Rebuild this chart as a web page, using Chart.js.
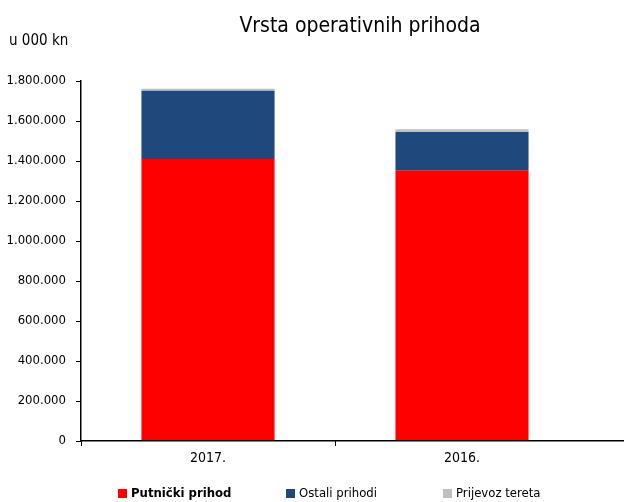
<!DOCTYPE html>
<html>
<head>
<meta charset="utf-8">
<script src="https://cdn.jsdelivr.net/npm/chart.js@4"></script>
<style>
  html, body { margin: 0; padding: 0; background: #fff; }
  #wrap { width: 624px; height: 502px; position: relative; }
</style>
</head>
<body>
<div id="wrap"><canvas id="revenueChart" width="624" height="502"></canvas></div>
<script>
const years = ['2017.', '2016.'];
const putnicki = [1410000, 1351000];
const ostali = [341000, 194000];
const teret = [10000, 14000];
const yTicks = [0, 200000, 400000, 600000, 800000, 1000000, 1200000, 1400000, 1600000, 1800000];

const FONT = '"DejaVu Sans Condensed", "Liberation Sans Narrow", "Liberation Sans", sans-serif';

function fmt(v) {
    return String(v).replace(/\B(?=(\d{3})+(?!\d))/g, '.');
}

// naslov, jedinica, legenda i vodoravna os crtaju se ručno
const extras = {
    id: 'extras',
    afterDraw(chart) {
        const c = chart.ctx;
        const a = chart.chartArea;
        c.save();
        const yLine = Math.round(a.bottom - 0.75) + 0.75;
        c.strokeStyle = '#000';
        c.lineWidth = 1.5;
        c.beginPath();
        c.moveTo(a.left - 1, yLine);
        c.lineTo(chart.width, yLine);
        c.stroke();

        c.fillStyle = '#000';
        c.textBaseline = 'middle';
        c.font = '21px ' + FONT;
        c.textAlign = 'center';
        c.fillText('Vrsta operativnih prihoda', 360, 27);
        c.font = '15px ' + FONT;
        c.textAlign = 'left';
        c.fillText('u 000 kn', 9, 41);

        const pos = [118, 286, 443];
        chart.data.datasets.forEach((ds, i) => {
            c.fillStyle = ds.backgroundColor;
            c.fillRect(pos[i], 489, 9, 9);
            c.fillStyle = '#000';
            c.font = (i === 0 ? 'bold ' : '') + '13px ' + FONT;
            c.fillText(ds.label, pos[i] + 13, 494);
        });
        c.restore();
    }
};

const ctx = document.getElementById('revenueChart').getContext('2d');
const revenueChart = new Chart(ctx, {
    type: 'bar',
    data: {
        labels: years,
        datasets: [
            { label: 'Putnički prihod', data: putnicki, backgroundColor: '#FF0000' },
            { label: 'Ostali prihodi', data: ostali, backgroundColor: '#1F497D' },
            { label: 'Prijevoz tereta', data: teret, backgroundColor: '#BFBFBF' }
        ]
    },
    options: {
        responsive: false,
        animation: false,
        layout: { padding: { top: 81, right: 35, left: 0, bottom: 0 } },
        datasets: {
            bar: { categoryPercentage: 1, barPercentage: 0.524 }
        },
        plugins: {
            legend: { display: false },
            title: { display: false },
            tooltip: { enabled: false }
        },
        scales: {
            x: {
                stacked: true,
                grid: {
                    offset: true,
                    drawOnChartArea: false,
                    tickLength: 5,
                    color: c => (c.type === 'tick' ? '#000' : 'rgba(0,0,0,0)')
                },
                border: { display: false },
                ticks: { color: '#000', font: { family: FONT, size: 14 }, padding: 4 },
                afterFit(axis) { axis.height = 61; }
            },
            y: {
                stacked: true,
                min: 0,
                max: 1800000,
                afterBuildTicks(axis) { axis.ticks = yTicks.map(v => ({ value: v })); },
                grid: { drawOnChartArea: false, tickLength: 5, color: '#000' },
                border: { color: '#000', width: 1.5 },
                ticks: {
                    color: '#000',
                    font: { family: FONT, size: 13 },
                    padding: 10,
                    callback: v => fmt(v)
                },
                afterFit(axis) { axis.width = 81; }
            }
        }
    },
    plugins: [extras]
});
</script>
</body>
</html>
